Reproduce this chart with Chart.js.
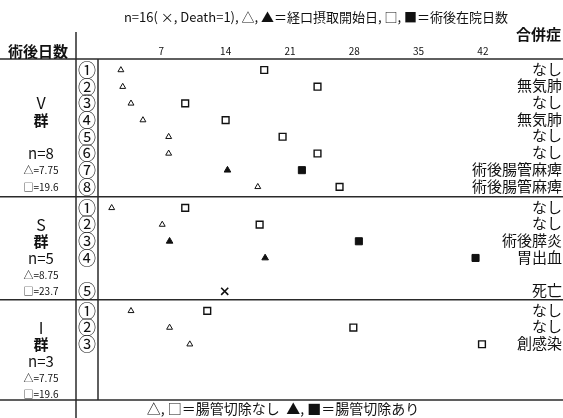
<!DOCTYPE html>
<html>
<head>
<meta charset="utf-8">
<script src="https://cdn.jsdelivr.net/npm/chart.js@4"></script>
<style>
  body { margin: 0; background: #fff; }
  canvas { display: block; }
</style>
</head>
<body>
<canvas id="stayChart" width="563" height="418"></canvas>
<script>
const groupNames = ['V', 'S', 'I'];
const groupN = ['n=8', 'n=5', 'n=3'];
const triMeans = ['△=7.75', '△=8.75', '△=7.75'];
const sqMeans = ['□=19.6', '□=23.7', '□=19.6'];
const dayTicks = [7, 14, 21, 28, 35, 42];

// V群
const vOral = [2.6, 2.8, 3.7, 5, 7.8, 7.8, 14.2, 17.5];
const vStay = [18.2, 24, 9.6, 14, 20.2, 24, 22.3, 26.4];
const vResect = [0, 0, 0, 0, 0, 0, 1, 0];
const vComp = ['なし', '無気肺', 'なし', '無気肺', 'なし', 'なし', '術後腸管麻痺', '術後腸管麻痺'];

// S群 (⑤は死亡例)
const sOral = [1.6, 7.1, 7.9, 18.3, null];
const sStay = [9.6, 17.7, 28.5, 41.2, null];
const sDeath = [null, null, null, null, 13.9];
const sResect = [0, 0, 1, 1, 0];
const sComp = ['なし', 'なし', '術後膵炎', '胃出血', '死亡'];

// I群
const iOral = [3.7, 7.9, 10.1];
const iStay = [12, 27.9, 41.9];
const iResect = [0, 0, 0];
const iComp = ['なし', 'なし', '創感染'];

const groups = [
  { oral: vOral, stay: vStay, resect: vResect, comp: vComp },
  { oral: sOral, stay: sStay, resect: sResect, comp: sComp, death: sDeath },
  { oral: iOral, stay: iStay, resect: iResect, comp: iComp }
];

// row layout (in row units)
const blockStart = [0, 8.26, 14.43];
const yMax = 20.43;
function slotOf(g, i) { return (g === 1 && i === 4) ? 5 : i; } // death row sits one row lower
function rowY(g, i) { return blockStart[g] + 0.66 + slotOf(g, i); }

const openTri = [], fillTri = [], openSq = [], fillSq = [], deaths = [];
groups.forEach((grp, g) => {
  grp.comp.forEach((c, i) => {
    const y = rowY(g, i);
    if (grp.oral[i] != null) (grp.resect[i] ? fillTri : openTri).push({ x: grp.oral[i], y });
    if (grp.stay[i] != null) (grp.resect[i] ? fillSq : openSq).push({ x: grp.stay[i], y });
    if (grp.death && grp.death[i] != null) deaths.push({ x: grp.death[i], y });
  });
});

const JP = '"Noto Sans CJK JP", "Noto Sans", sans-serif';

const tablePlugin = {
  id: 'table',
  beforeDatasetsDraw(chart) {
    const { ctx, chartArea, scales } = chart;
    const x = scales.x, y = scales.y;
    ctx.save();
    ctx.strokeStyle = '#2a2a2a';
    ctx.lineWidth = 1.5;
    const hline = (py) => { ctx.beginPath(); ctx.moveTo(0, py); ctx.lineTo(563, py); ctx.stroke(); };
    hline(chartArea.top);
    hline(y.getPixelForValue(blockStart[1]));
    hline(y.getPixelForValue(blockStart[2]));
    hline(chartArea.bottom);
    ctx.beginPath(); ctx.moveTo(76, 32); ctx.lineTo(76, 418); ctx.stroke();
    ctx.beginPath(); ctx.moveTo(98, chartArea.top); ctx.lineTo(98, chartArea.bottom); ctx.stroke();

    ctx.fillStyle = '#111';
    ctx.textBaseline = 'middle';

    // header
    ctx.textAlign = 'center';
    ctx.font = '13px ' + JP;
    ctx.fillText('n=16( ×, Death=1), △, ▲＝経口摂取開始日, □, ■＝術後在院日数', 316, 17);
    ctx.textAlign = 'right';
    ctx.font = 'bold 15px ' + JP;
    ctx.fillText('合併症', 561, 34);
    ctx.textAlign = 'left';
    ctx.fillText('術後日数', 8, 51);
    ctx.textAlign = 'center';
    ctx.font = '10px ' + JP;
    dayTicks.forEach(d => ctx.fillText(String(d), x.getPixelForValue(d), 51));

    // rows
    groups.forEach((grp, g) => {
      grp.comp.forEach((c, i) => {
        const py = y.getPixelForValue(rowY(g, i));
        ctx.textAlign = 'center';
        ctx.font = '18px ' + JP;
        ctx.fillText(String.fromCharCode(0x2460 + i), 87, py);
        ctx.textAlign = 'right';
        ctx.font = '15px ' + JP;
        ctx.fillText(c, 562, py - 1);
      });
      const base = blockStart[g] + 0.66;
      const first = g === 0 ? 2 : 1;
      const at = (k) => y.getPixelForValue(base + k);
      ctx.textAlign = 'center';
      ctx.font = '16px ' + JP;
      ctx.fillText(groupNames[g], 41, at(first));
      ctx.font = 'bold 15px ' + JP;
      ctx.fillText('群', 41, at(first + 1));
      ctx.font = '15px ' + JP;
      ctx.fillText(groupN[g], 41, at(first + (g === 0 ? 3 : 2)));
      ctx.font = '10px ' + JP;
      ctx.fillText(triMeans[g], 41, at(first + (g === 0 ? 4 : 3)) + (g === 0 ? 0 : 1));
      ctx.fillText(sqMeans[g], 41, at(first + (g === 0 ? 5 : 4)));
    });

    // legend
    ctx.font = '14px ' + JP;
    ctx.textAlign = 'center';
    ctx.fillText('△, □＝腸管切除なし  ▲, ■＝腸管切除あり', 283, 409);
    ctx.restore();
  }
};

const pt = (label, data, style, fill, r, bw) => ({
  label, data, pointStyle: style,
  pointRadius: r, pointBorderWidth: bw || 1,
  pointBackgroundColor: fill ? '#111' : '#fff',
  pointBorderColor: '#111',
  showLine: false, clip: false
});

new Chart(document.getElementById('stayChart'), {
  type: 'scatter',
  data: {
    datasets: [
      pt('経口摂取開始日 (腸管切除なし)', openTri, 'triangle', false, 3.4),
      pt('経口摂取開始日 (腸管切除あり)', fillTri, 'triangle', true, 3.8),
      pt('術後在院日数 (腸管切除なし)', openSq, 'rect', false, 4.8, 1.4),
      pt('術後在院日数 (腸管切除あり)', fillSq, 'rect', true, 5),
      pt('Death', deaths, 'crossRot', false, 5, 1.6)
    ]
  },
  options: {
    responsive: false,
    animation: false,
    layout: { padding: { left: 97, right: 0, top: 59, bottom: 18 } },
    scales: {
      x: { type: 'linear', min: 0, max: 50, display: false },
      y: { type: 'linear', min: 0, max: yMax, reverse: true, display: false }
    },
    plugins: { legend: { display: false }, tooltip: { enabled: false } }
  },
  plugins: [tablePlugin]
});
</script>
</body>
</html>
